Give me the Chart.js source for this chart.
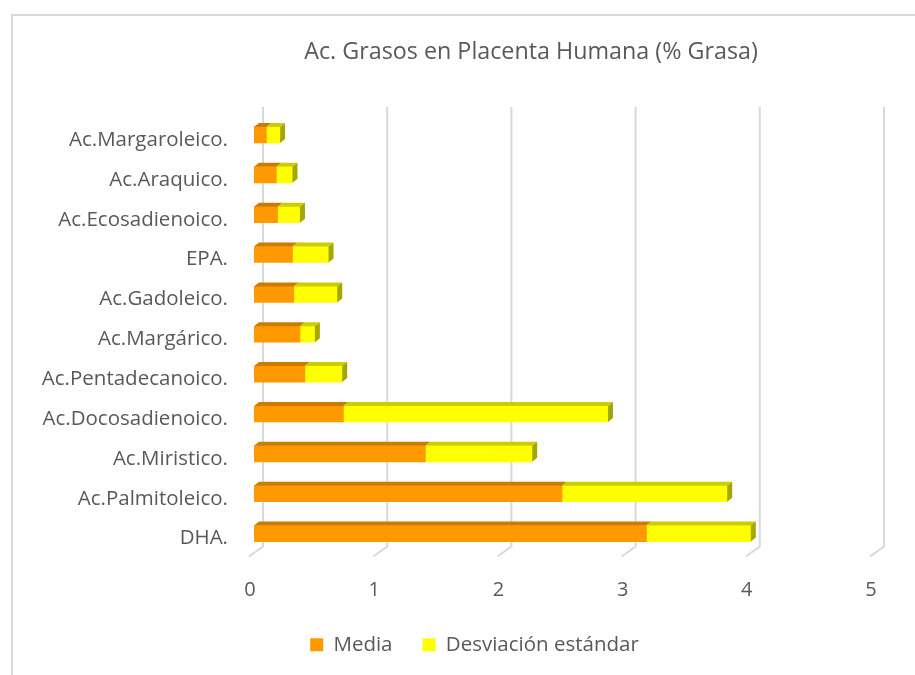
<!DOCTYPE html>
<html>
<head>
<meta charset="utf-8">
<script src="https://cdn.jsdelivr.net/npm/chart.js@4/dist/chart.umd.min.js"></script>
<style>
  html, body { margin: 0; padding: 0; background: #fff; overflow: hidden; }
  body { width: 915px; height: 675px; position: relative; }
  #frame { position: absolute; left: 11px; top: 14px; width: 1000px; height: 800px;
           border: 2px solid #d9d9d9; box-sizing: border-box; }
  #wrap { position: absolute; left: 0; top: 0; width: 950px; height: 675px; }
</style>
</head>
<body>
<div id="frame"></div>
<div id="wrap"><canvas id="c" width="950" height="675"></canvas></div>
<script>
// Fatty acids in human placenta (% of fat): mean and standard deviation
const categories = [
  'Ac.Margaroleico.', 'Ac.Araquico.', 'Ac.Ecosadienoico.', 'EPA.', 'Ac.Gadoleico.',
  'Ac.Margárico.', 'Ac.Pentadecanoico.', 'Ac.Docosadienoico.', 'Ac.Miristico.',
  'Ac.Palmitoleico.', 'DHA.'
];
const media      = [0.10, 0.18, 0.19, 0.31, 0.32, 0.37, 0.41, 0.72, 1.38, 2.48, 3.16];
const desviacion = [0.11, 0.13, 0.18, 0.29, 0.35, 0.12, 0.30, 2.13, 0.86, 1.33, 0.84];
const xTicks = [0, 1, 2, 3, 4, 5];
const seriesNames = ['Media', 'Desviación estándar'];
const chartTitle = 'Ac. Grasos en Placenta Humana (% Grasa)';

const FONT = "'Open Sans', 'Liberation Sans', sans-serif";
const TEXT = '#595959';
const DEPTH_X = 5, DEPTH_Y = 4;          // bar extrusion
const WALL_X = 9, WALL_Y = 7;            // back-wall offset of gridlines
const FLOOR_X = 14, FLOOR_Y = 10;        // floor slant of gridlines
const LEGEND_SHIFT = 37;                 // legend sits left of the plot centre

const faceColors = [
  { front: '#ff9900', top: '#cc7a00', side: '#b36b00' },
  { front: '#ffff00', top: '#cccc00', side: '#a6a600' }
];

// Oblique 3D look: gridlines on the back wall with a slanted floor stroke
const wallGrid = {
  id: 'wallGrid',
  beforeDatasetsDraw(chart) {
    const { ctx, chartArea, scales: { x } } = chart;
    ctx.save();
    ctx.strokeStyle = '#d9d9d9';
    ctx.lineWidth = 2;
    xTicks.forEach(v => {
      const px = x.getPixelForValue(v) + WALL_X;
      const yTop = 107;
      const yBot = chartArea.bottom - WALL_Y;
      ctx.beginPath();
      ctx.moveTo(px, yTop);
      ctx.lineTo(px, yBot);
      ctx.lineTo(px - FLOOR_X, yBot + FLOOR_Y);
      ctx.stroke();
    });
    ctx.restore();
  }
};

// Top and end faces for each stacked bar
const barFaces = {
  id: 'barFaces',
  afterDatasetsDraw(chart) {
    const { ctx } = chart;
    const last = chart.data.datasets.length - 1;
    ctx.save();
    chart.data.datasets.forEach((ds, di) => {
      const meta = chart.getDatasetMeta(di);
      meta.data.forEach(bar => {
        const p = bar.getProps(['x', 'y', 'base', 'height'], true);
        const left = Math.min(p.x, p.base), right = Math.max(p.x, p.base);
        const top = p.y - p.height / 2, bottom = p.y + p.height / 2;
        ctx.fillStyle = faceColors[di].top;
        ctx.beginPath();
        ctx.moveTo(left, top);
        ctx.lineTo(left + DEPTH_X, top - DEPTH_Y);
        ctx.lineTo(right + DEPTH_X, top - DEPTH_Y);
        ctx.lineTo(right, top);
        ctx.closePath();
        ctx.fill();
        if (di === last) {
          ctx.fillStyle = faceColors[di].side;
          ctx.beginPath();
          ctx.moveTo(right, top);
          ctx.lineTo(right + DEPTH_X, top - DEPTH_Y);
          ctx.lineTo(right + DEPTH_X, bottom - DEPTH_Y);
          ctx.lineTo(right, bottom);
          ctx.closePath();
          ctx.fill();
        }
      });
    });
    ctx.restore();
  }
};

// Move the legend box so it is centred under the whole frame
const legendShift = {
  id: 'legendShift',
  afterLayout(chart) {
    if (chart.legend) {
      chart.legend.left += LEGEND_SHIFT;
      chart.legend.right += LEGEND_SHIFT;
    }
  }
};

// Title placed over the plot
const titleText = {
  id: 'titleText',
  afterDraw(chart) {
    const { ctx } = chart;
    ctx.save();
    ctx.font = '23.3px ' + FONT;
    ctx.fillStyle = TEXT;
    ctx.textAlign = 'center';
    ctx.textBaseline = 'middle';
    ctx.fillText(chartTitle, 531, 52);
    ctx.restore();
  }
};

new Chart(document.getElementById('c'), {
  type: 'bar',
  data: {
    labels: categories,
    datasets: [
      { label: seriesNames[0], data: media, backgroundColor: faceColors[0].front, borderWidth: 0, barThickness: 16 },
      { label: seriesNames[1], data: desviacion, backgroundColor: faceColors[1].front, borderWidth: 0, barThickness: 16 }
    ]
  },
  options: {
    indexAxis: 'y',
    responsive: false,
    animation: false,
    layout: { padding: { left: 0, right: 75, top: 115, bottom: 10 } },
    scales: {
      x: {
        stacked: true,
        min: 0, max: 5,
        afterBuildTicks(scale) { scale.ticks = xTicks.map(v => ({ value: v })); },
        afterFit(scale) { scale.height = 51; },
        grid: { display: false },
        border: { display: false },
        ticks: { color: TEXT, font: { family: FONT, size: 20 }, padding: 17, labelOffset: -4 }
      },
      y: {
        stacked: true,
        afterFit(scale) { scale.width = 254; },
        grid: { display: false },
        border: { display: false },
        ticks: { color: TEXT, font: { family: FONT, size: 20.5 }, padding: 18, labelOffset: 5, autoSkip: false }
      }
    },
    plugins: {
      legend: {
        position: 'bottom',
        labels: { color: TEXT, font: { family: FONT, size: 20.5 }, boxWidth: 13, boxHeight: 13, padding: 30 }
      },
      tooltip: { enabled: false },
      title: { display: false }
    }
  },
  plugins: [wallGrid, barFaces, legendShift, titleText]
});
</script>
</body>
</html>
